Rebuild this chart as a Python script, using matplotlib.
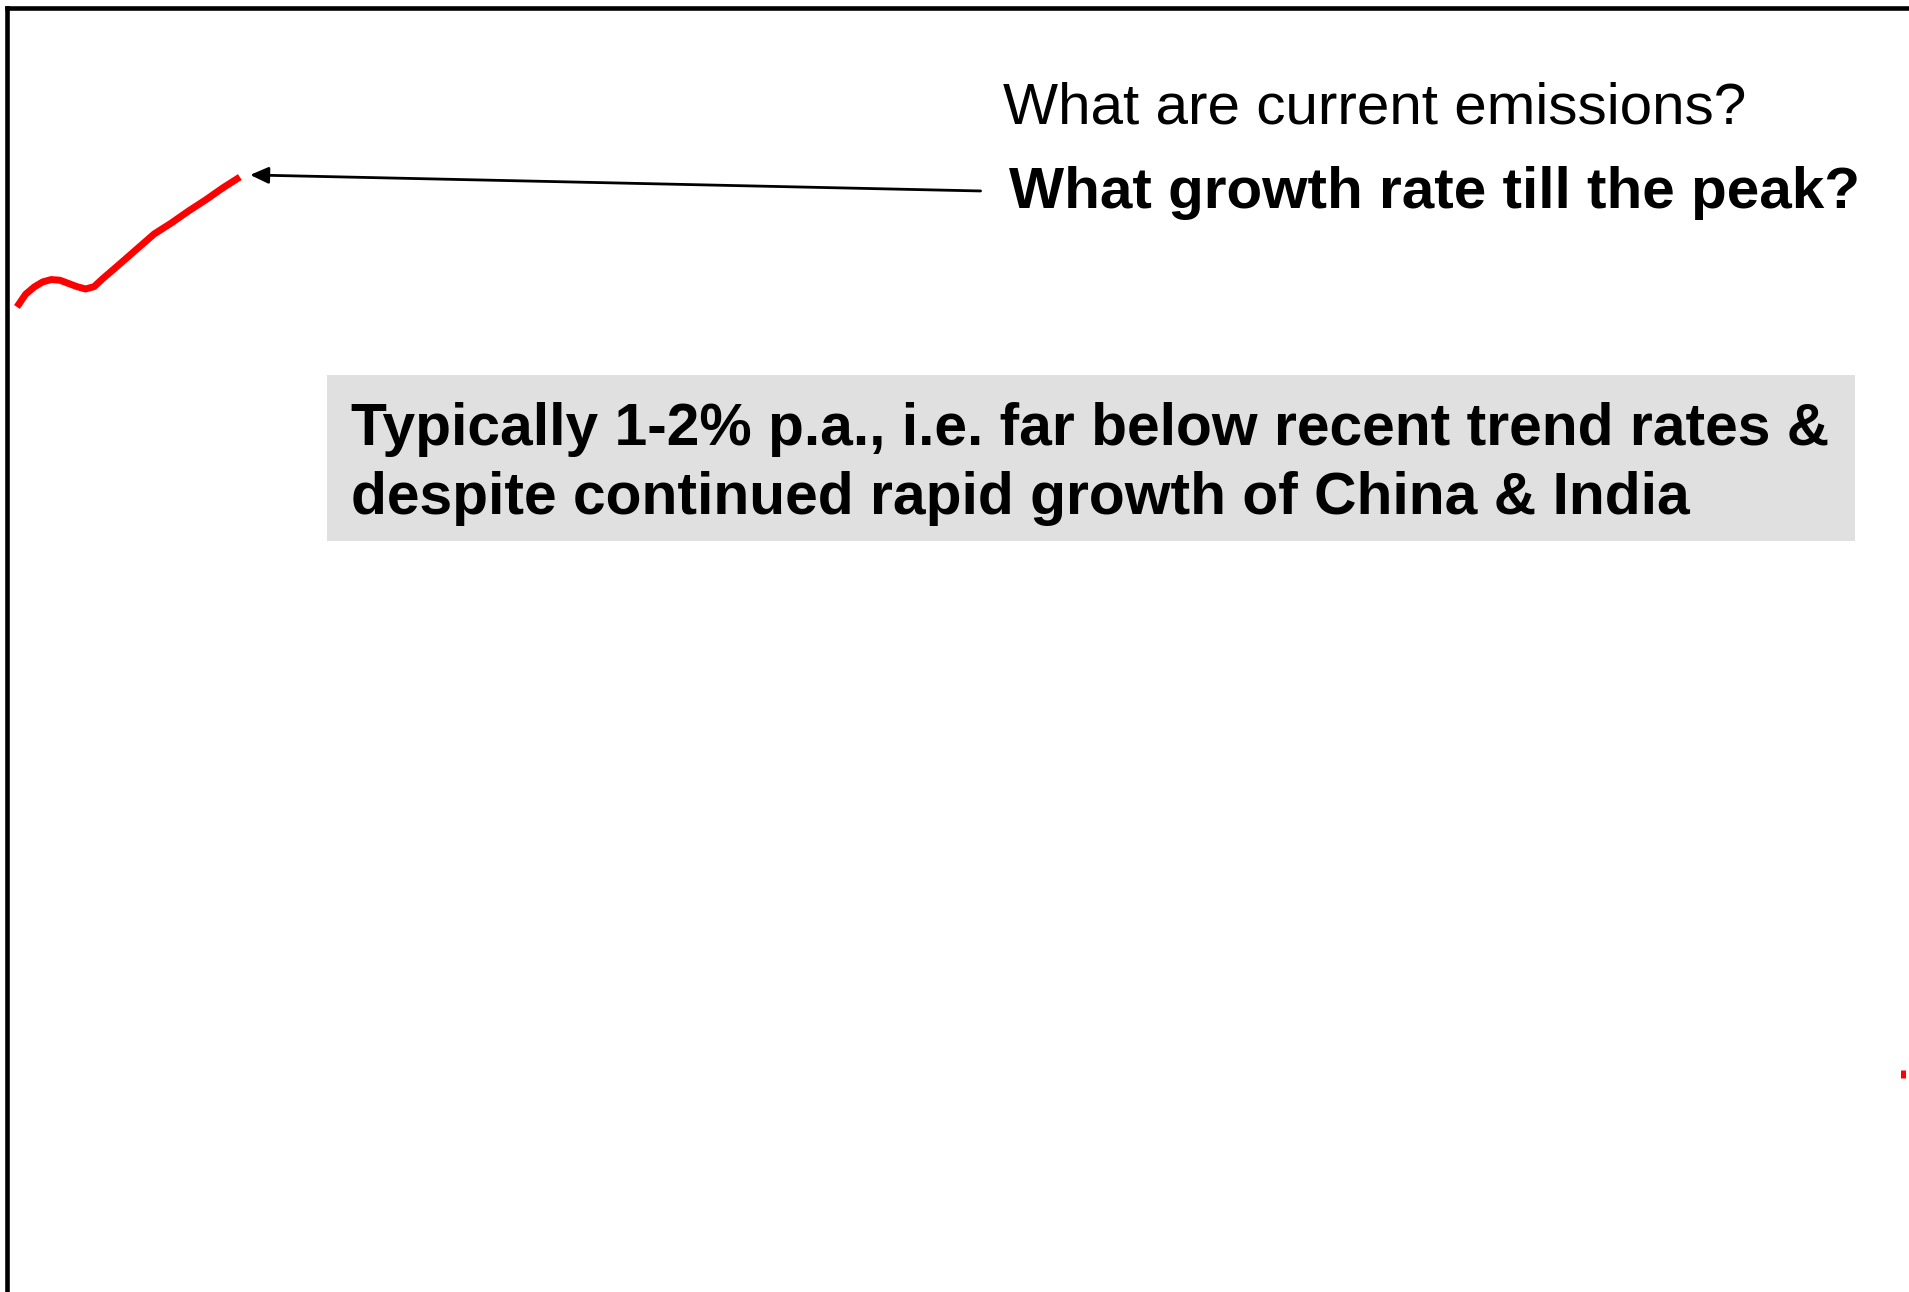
import matplotlib.pyplot as plt
from matplotlib.patches import Rectangle

plt.rcParams['font.family'] = ['Liberation Sans', 'DejaVu Sans']

# --- data ---
years = [1995, 1995.5, 1996, 1996.5, 1997, 1997.5, 1998, 1998.5, 1999, 1999.5,
         2000, 2001, 2002, 2003, 2004, 2005, 2006, 2007, 2008]
emissions = [46.03, 46.62, 46.96, 47.20, 47.31, 47.28, 47.13, 46.98, 46.87, 46.98,
             47.35, 48.04, 48.74, 49.44, 49.95, 50.51, 51.03, 51.59, 52.10]
target_year = [2105.0, 2105.0]
target_val = [10.0, 10.37]

arrow_from = (2051.2, 51.45)
arrow_to = (2008.6, 52.20)

question_1 = 'What are current emissions?'
question_2 = 'What growth rate till the peak?'
answer_lines = ['Typically 1-2% p.a., i.e. far below recent trend rates &',
                'despite continued rapid growth of China & India']

W, H = 1909, 1292
fig = plt.figure(figsize=(W / 100, H / 100), dpi=100)
ax = fig.add_axes([6.5 / W, 0, 1 - 6.5 / W, 1 - 8 / H])
ax.set_xlim(1994.39, 2105.35)
ax.set_ylim(0, 60)
ax.set_xticks([])
ax.set_yticks([])
for side in ['right', 'bottom']:
    ax.spines[side].set_visible(False)
for side in ['top', 'left']:
    ax.spines[side].set_linewidth(3.3)
    ax.spines[side].set_color('black')

ax.plot(years, emissions, color='red', lw=5, solid_capstyle='butt',
        solid_joinstyle='round', clip_on=False)
ax.plot(target_year, target_val, color='red', lw=3.6, solid_capstyle='butt')

ax.annotate('', xy=arrow_to, xytext=arrow_from,
            arrowprops=dict(arrowstyle='-|>,head_length=0.55,head_width=0.25',
                            mutation_scale=20, lw=2, color='black',
                            shrinkA=0, shrinkB=0))


def fx(px):
    return px / W


def fy(py):
    return 1 - py / H


fig.text(fx(1003), fy(124), question_1, fontsize=42.0, va='baseline', ha='left')
fig.text(fx(1009), fy(208), question_2, fontsize=42.0, fontweight='bold',
         va='baseline', ha='left')

# grey answer box
fig.patches.append(Rectangle((fx(327), fy(541)), (1855 - 327) / W, (541 - 375) / H,
                             transform=fig.transFigure, facecolor='#e0e0e0',
                             edgecolor='none', zorder=0))
fig.text(fx(351), fy(445), answer_lines[0], fontsize=42.3, fontweight='bold',
         va='baseline', ha='left')
fig.text(fx(351), fy(514), answer_lines[1], fontsize=42.3, fontweight='bold',
         va='baseline', ha='left')

fig.savefig('out.png', dpi=100)
